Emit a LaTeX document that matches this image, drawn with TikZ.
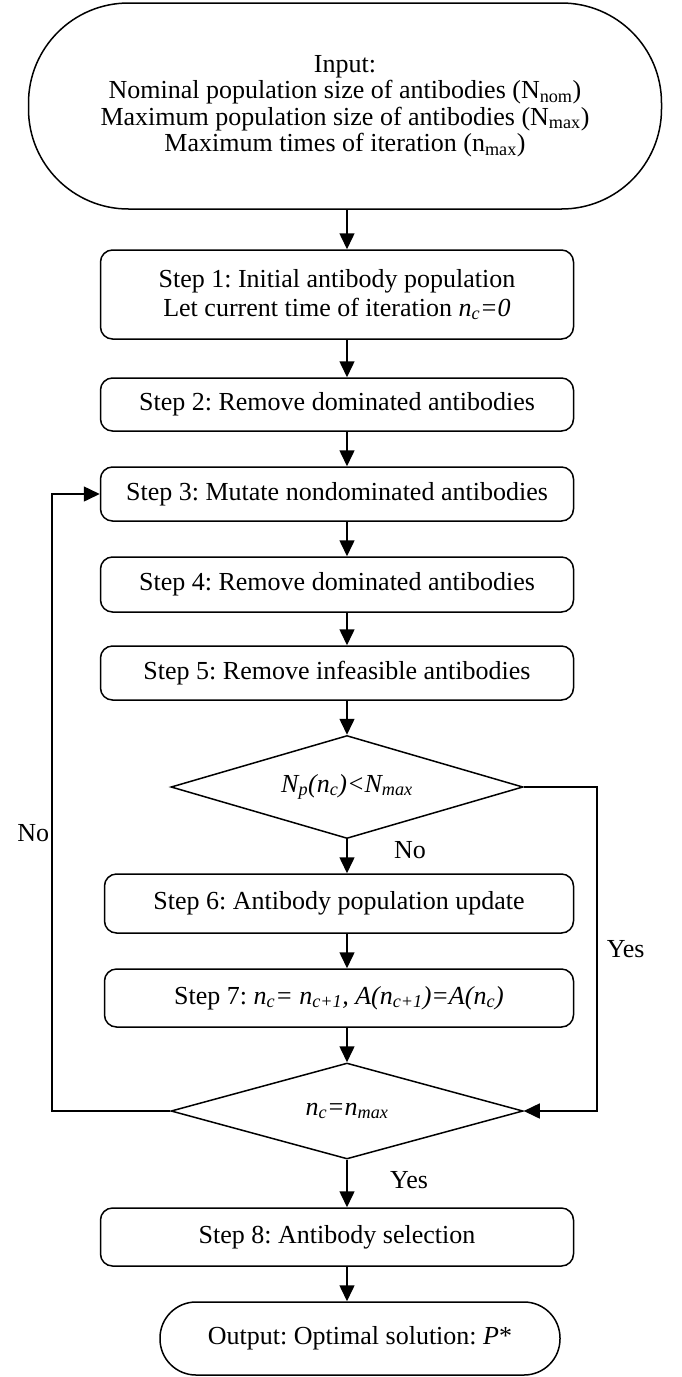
\documentclass[tikz,border=0pt]{standalone}
\usepackage{fontspec}
\setmainfont{Liberation Serif}
\usetikzlibrary{shapes.geometric}
\usetikzlibrary{arrows.meta}
\frenchspacing

\begin{document}
\begin{tikzpicture}[x=1pt, y=-1pt, line width=1.5pt,
    stepbox/.style={draw, rounded corners=12pt, align=center, inner sep=0pt, minimum width=473pt, font=\fontsize{26}{29}\selectfont},
    terminal/.style={draw, align=center, inner sep=0pt, font=\fontsize{26}{26.5}\selectfont},
    decision/.style={draw, diamond, aspect=3.4, inner sep=0pt, minimum width=352pt, font=\fontsize{26}{27}\selectfont},
    arr/.style={-{Triangle[length=16pt, width=15pt]}},
    lbl/.style={inner sep=0pt, font=\fontsize{26}{27}\selectfont}]
    \useasboundingbox (0,0) rectangle (682,1377);
    \coordinate (col) at (347,0);
    \coordinate (loopx) at (52,0);
    \coordinate (yesx) at (597,0);
    %% Boxes
    \node[terminal, rounded corners=100pt, minimum width=633pt, minimum height=206pt] (input) at (345,106)
        {Input:\\ Nominal population size of antibodies (N\textsubscript{nom})\\ Maximum population size of antibodies (N\textsubscript{max})\\ Maximum times of iteration (n\textsubscript{max})};
    \node[stepbox, minimum height=89pt] (step1) at (337,294.5)
        {Step 1: Initial antibody population\\ Let current time of iteration \textit{n\textsubscript{c}=0}};
    \node[stepbox, minimum height=53pt] (step2) at (337,404.5) {Step 2: Remove dominated antibodies};
    \node[stepbox, minimum height=54pt] (step3) at (337,494) {Step 3: Mutate nondominated antibodies};
    \node[stepbox, minimum height=55pt] (step4) at (337,584.5) {Step 4: Remove dominated antibodies};
    \node[stepbox, minimum height=54pt] (step5) at (337,673) {Step 5: Remove infeasible antibodies};
    \node[decision, minimum height=103pt] (d1) at (347,787) {\textit{N\textsubscript{p}(n\textsubscript{c})<N\textsubscript{max}}};
    \node[stepbox, minimum height=59pt, minimum width=469pt] (step6) at (339,903.5) {Step 6: Antibody population update};
    \node[stepbox, minimum height=58pt, minimum width=469pt] (step7) at (339,998)
        {Step 7: \textit{n\textsubscript{c}= n\textsubscript{c+1}, A(n\textsubscript{c+1})=A(n\textsubscript{c})}};
    \node[decision, minimum height=96pt] (d2) at (347,1111) {\textit{n\textsubscript{c}=n\textsubscript{max}}};
    \node[stepbox, minimum height=58pt] (step8) at (337,1237) {Step 8: Antibody selection};
    \node[terminal, rounded corners=36pt, minimum width=400pt, minimum height=73pt] (output) at (360,1338.5)
        {Output: Optimal solution: \textit{P}*};
    %% Arrows down the column
    \foreach \a/\b in {input/step1, step1/step2, step2/step3, step3/step4, step4/step5, step5/d1,
                       d1/step6, step6/step7, step7/d2, d2/step8, step8/output}
        \draw[arr] (\a.south -| col) -- (\b.north -| col);
    %% Loops
    \draw[arr] (d2.west) -- (d2.west -| loopx) |- (step3.west);
    \draw[arr] (d1.east) -- (d1.east -| yesx) |- (d2.east);
    %% Labels
    \node[lbl, anchor=east] (no1) at (50,833) {No};
    \node[lbl] (no2) at (410,850) {No};
    \node[lbl, anchor=west] (yes1) at (606,949) {Yes};
    \node[lbl] (yes2) at (409,1180) {Yes};
\end{tikzpicture}
\end{document}
